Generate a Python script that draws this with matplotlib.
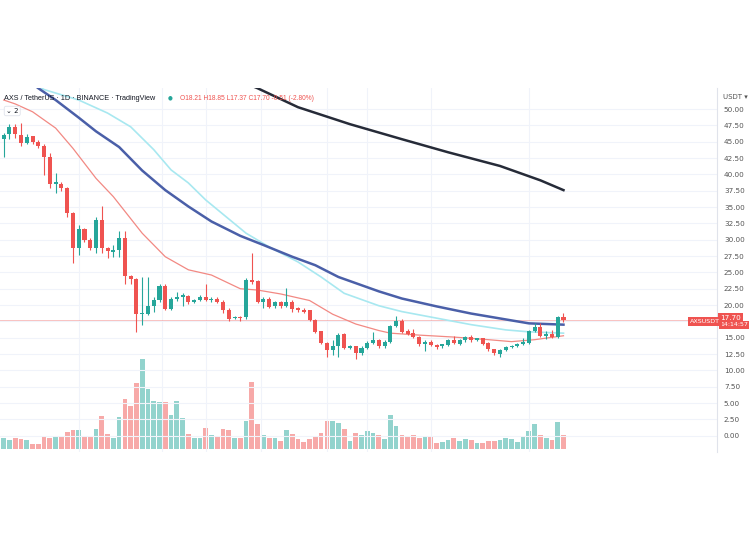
import numpy as np
import matplotlib
matplotlib.use("Agg")
import matplotlib.pyplot as plt

# daily candles, AXS/USDT
opens = [45.4, 46.2, 47.2, 46.0, 44.8, 45.9, 45.0, 44.3, 42.7, 38.6,
         38.6, 37.9, 34.1, 28.8, 31.6, 30.0, 28.8, 33.1, 28.8, 28.2,
         28.5, 30.2, 24.5, 24.0, 18.7, 18.7, 19.8, 20.7, 22.9, 19.4,
         21.0, 21.3, 21.4, 20.5, 20.8, 21.3, 20.8, 21.0, 20.5, 19.3,
         18.0, 18.2, 18.1, 23.8, 23.7, 20.5, 21.0, 19.8, 20.4, 19.9,
         20.5, 19.5, 19.3, 19.2, 17.7, 16.0, 14.2, 13.1, 13.7, 15.5,
         13.4, 13.7, 12.6, 13.5, 14.2, 14.6, 13.7, 14.4, 16.8, 17.6,
         16.0, 15.7, 15.1, 14.1, 14.4, 13.9, 13.7, 13.9, 14.6, 14.1,
         14.6, 15.1, 14.6, 14.9, 14.2, 13.2, 12.5, 13.1, 13.6, 13.8,
         14.1, 14.2, 16.0, 16.6, 15.3, 15.6, 15.1, 18.21]
closes = [46.1, 47.2, 46.2, 44.8, 45.8, 45.0, 44.3, 42.7, 38.6, 38.8,
          37.9, 34.1, 28.8, 31.6, 30.0, 28.8, 33.1, 28.8, 28.3, 28.4,
          30.2, 24.5, 24.0, 18.7, 18.8, 19.8, 20.7, 22.9, 19.4, 21.0,
          21.3, 21.5, 20.5, 20.8, 21.3, 20.8, 21.0, 20.5, 19.2, 17.9,
          18.2, 18.0, 23.8, 23.6, 20.5, 21.0, 19.7, 20.4, 19.8, 20.5,
          19.4, 19.2, 19.0, 17.7, 15.9, 14.2, 13.1, 13.7, 15.4, 13.5,
          13.7, 12.6, 13.5, 14.2, 14.6, 13.7, 14.4, 16.8, 17.6, 15.9,
          15.6, 15.1, 14.0, 14.4, 13.9, 13.6, 14.0, 14.7, 14.2, 14.7,
          15.1, 14.6, 14.9, 14.1, 13.2, 12.6, 13.1, 13.6, 13.8, 14.1,
          14.4, 16.1, 16.6, 15.3, 15.5, 15.1, 18.2, 17.70]
highs = [46.3, 47.8, 47.8, 47.9, 46.2, 45.8, 45.3, 44.6, 43.3, 40.2,
         38.9, 38.1, 34.3, 32.3, 31.8, 30.2, 33.5, 35.1, 28.9, 29.2,
         31.4, 31.4, 24.6, 24.2, 24.3, 24.3, 21.3, 23.3, 23.2, 21.2,
         22.0, 21.8, 21.6, 20.9, 21.5, 23.3, 21.2, 21.2, 20.7, 19.6,
         18.4, 18.4, 24.1, 28.0, 23.9, 21.3, 21.3, 20.6, 20.6, 22.6,
         20.7, 19.7, 19.5, 19.3, 17.9, 16.1, 14.4, 14.7, 15.7, 15.7,
         13.9, 13.8, 13.7, 14.5, 15.8, 14.8, 14.6, 17.0, 18.3, 17.8,
         16.4, 16.4, 15.3, 14.6, 14.6, 14.0, 14.1, 14.8, 15.2, 14.8,
         15.2, 15.4, 15.0, 15.0, 14.3, 13.3, 13.2, 13.7, 13.9, 14.2,
         14.9, 16.2, 17.3, 17.3, 16.1, 16.2, 18.3, 18.85]
lows = [42.7, 45.4, 45.6, 44.3, 44.6, 44.7, 44.1, 39.9, 37.9, 37.1,
        37.4, 33.5, 26.4, 27.7, 29.7, 28.4, 27.9, 27.9, 27.2, 27.4,
        27.3, 23.3, 23.3, 15.9, 17.0, 18.5, 19.0, 20.5, 19.2, 19.2,
        20.6, 19.8, 20.2, 20.3, 20.6, 20.6, 20.5, 20.3, 18.8, 17.6,
        17.8, 17.5, 17.8, 23.3, 20.3, 19.5, 19.5, 19.6, 19.6, 19.7,
        19.0, 19.0, 18.8, 17.5, 15.7, 14.0, 12.0, 12.4, 12.1, 13.3,
        13.2, 11.7, 12.4, 13.3, 14.0, 13.5, 13.5, 14.2, 16.6, 15.7,
        15.4, 14.9, 13.8, 12.9, 13.7, 13.2, 13.5, 13.8, 14.0, 13.9,
        14.4, 14.4, 14.5, 13.9, 13.0, 12.4, 12.1, 12.9, 13.4, 13.6,
        13.9, 14.0, 15.8, 15.1, 14.8, 14.9, 15.0, 17.37]
volumes = [10.3, 8.7, 11.0, 9.7, 8.7, 4.3, 4.7, 13.0, 11.0, 11.3,
           11.3, 17.0, 18.7, 18.7, 12.0, 12.0, 19.7, 32.7, 14.3, 11.0,
           31.3, 49.3, 43.0, 66.0, 89.3, 59.3, 48.0, 47.0, 46.3, 33.7,
           48.0, 30.3, 14.7, 10.3, 10.3, 21.0, 13.7, 12.0, 19.3, 18.7,
           10.3, 10.3, 27.7, 66.3, 24.7, 13.7, 10.3, 10.3, 7.7, 18.7,
           14.3, 9.3, 7.0, 9.7, 12.7, 16.0, 27.7, 28.0, 25.3, 19.7,
           8.0, 16.0, 13.7, 18.0, 15.3, 14.0, 10.0, 34.0, 22.3, 14.0,
           11.7, 13.3, 11.0, 12.0, 11.3, 5.7, 6.3, 8.7, 11.0, 8.0,
           9.7, 8.7, 6.0, 6.0, 7.3, 7.3, 9.0, 10.7, 9.7, 6.7,
           11.3, 17.7, 25.0, 14.0, 10.7, 8.7, 26.7, 13.3]

# moving averages, sampled along the lines (candle index, price)
ema_idx = [0, 2, 5, 9, 12, 14, 16, 19, 24, 28, 32, 36, 41, 44, 48, 53,
           57, 61, 65, 67, 72, 78, 84, 88, 92, 97]
ema_val = [51.4, 50.8, 49.6, 47.1, 44.0, 41.7, 39.4, 36.6, 31.0, 27.4,
           25.4, 24.6, 22.5, 22.3, 21.7, 20.7, 18.6, 17.1, 16.1, 15.7,
           15.4, 15.1, 14.7, 14.4, 14.7, 15.3]
ma50_idx = [4, 6, 9, 13, 16, 20, 24, 28, 32, 36, 41, 45, 50, 54, 58, 65,
            69, 75, 81, 87, 91, 97]
ma50_val = [54.6, 53.2, 51.4, 48.7, 46.6, 44.2, 40.6, 37.6, 35.1, 32.8,
            30.6, 29.2, 27.4, 26.1, 24.3, 22.1, 21.0, 19.8, 18.7, 17.8,
            17.2, 17.0]
ma100_idx = [5, 7, 13, 18, 22, 26, 29, 32, 35, 42, 46, 51, 55, 59, 65,
             69, 75, 81, 87, 91, 97]
ma100_val = [54.0, 53.0, 51.4, 49.4, 47.3, 43.8, 40.7, 38.7, 36.1, 31.0,
             28.9, 26.6, 24.3, 21.8, 19.9, 19.0, 18.0, 17.0, 16.2, 15.9,
             15.7]
ma200_idx = [41, 44, 51, 60, 69, 77, 86, 93, 97]
ma200_val = [54.3, 53.2, 50.3, 47.7, 45.4, 43.4, 41.3, 39.1, 37.6]

price_ticks = [0, 2.5, 5, 7.5, 10, 12.5, 15, 17.5, 20, 22.5, 25, 27.5,
               30, 32.5, 35, 37.5, 40, 42.5, 45, 47.5, 50]
vgrid_idx = [13, 27.5, 35, 44.5, 56, 63, 74, 91]

UP = "#26a69a"
DOWN = "#ef5350"
UP_VOL = "#92d3cd"
DOWN_VOL = "#f7a9a8"

n = len(opens)
x = np.arange(n)
o = np.array(opens)
c = np.array(closes)
up = c >= o

fig = plt.figure(figsize=(7.5, 5.4), dpi=100)
fig.patch.set_facecolor("white")
ax = fig.add_axes([0, 1 - 452 / 540, 717 / 750, 364 / 540])
ax.set_xlim(-0.64, 123.6)
ax.set_ylim(-2.5, 53.24)

for s in ["top", "left", "bottom"]:
    ax.spines[s].set_visible(False)
ax.spines["right"].set_color("#e0e3eb")
ax.spines["right"].set_linewidth(0.8)

# grid
for t in price_ticks:
    ax.axhline(t, color="#f0f3fa", lw=0.8, zorder=0)
for v in vgrid_idx:
    ax.axvline(v, color="#f0f3fa", lw=0.8, zorder=0)

# volume on its own scale
axv = ax.twinx()
axv.set_ylim(-3.3, 360.7)
axv.axis("off")
axv.bar(x, volumes, width=0.82, color=np.where(up, UP_VOL, DOWN_VOL), zorder=1)

# ax on top of the volume axes so candles are drawn above
ax.set_zorder(axv.get_zorder() + 1)
ax.patch.set_visible(False)

# candles
colors = np.where(up, UP, DOWN)
ax.vlines(x, lows, highs, color=colors, lw=0.8, zorder=3)
bottoms = np.minimum(o, c)
heights = np.maximum(np.abs(c - o), 0.12)
ax.bar(x, heights, bottom=bottoms, width=0.7, color=colors, zorder=4)

# moving averages
ax.plot(ema_idx, ema_val, color="#f28983", lw=0.9, zorder=2)
ax.plot(ma100_idx, ma100_val, color="#a8e8f0", lw=1.2, zorder=2)
ax.plot(ma50_idx, ma50_val, color="#4a5fa8", lw=1.8, zorder=2)
ax.plot(ma200_idx, ma200_val, color="#262b38", lw=1.8, zorder=2)

# last price line
ax.axhline(closes[-1], color=DOWN, lw=0.7, alpha=0.35, zorder=1)

# price scale
ax.yaxis.tick_right()
ax.set_yticks(price_ticks)
ax.set_yticklabels(["" if t == 17.5 else f"{t:.2f}" for t in price_ticks])
ax.tick_params(axis="y", length=0, pad=5, labelsize=5.2, labelcolor="#555555")
ax.set_xticks([])

def px(xp, yp):
    return xp / 750, 1 - yp / 540

fig.text(*px(723, 97), "USDT ▾", fontsize=5, color="#555555", va="center")

# last price labels
fig.text(*px(720, 318), f"{closes[-1]:.2f}", fontsize=5.2, color="white", va="center",
         bbox=dict(boxstyle="square,pad=0.3", fc=DOWN, ec="none"))
fig.text(*px(720, 325), "14:14:57", fontsize=4.5, color="white", va="center",
         bbox=dict(boxstyle="square,pad=0.2", fc=DOWN, ec="none"))
fig.text(*px(690, 321.5), "AXSUSDT", fontsize=4.6, color="white", va="center",
         bbox=dict(boxstyle="square,pad=0.3", fc=DOWN, ec="none"))

# header
fig.text(*px(4, 98), "AXS / TetherUS · 1D · BINANCE · TradingView", fontsize=5.2,
         family="Liberation Sans", color="#131722", va="center")
fig.text(*px(170, 98), "●", fontsize=4, color=UP, va="center", ha="center")
fig.text(*px(180, 98),
         f"O{opens[-1]:.2f} H{highs[-1]:.2f} L{lows[-1]:.2f} C{closes[-1]:.2f} -0.51 (-2.80%)",
         fontsize=4.8, family="Liberation Sans", color=DOWN, va="center")
fig.text(*px(6, 111), "⌄ 2", fontsize=5, color="#131722", va="center",
         bbox=dict(boxstyle="round,pad=0.25", fc="white", ec="#e0e3eb", lw=0.6))

fig.savefig("out.png", dpi=100)
